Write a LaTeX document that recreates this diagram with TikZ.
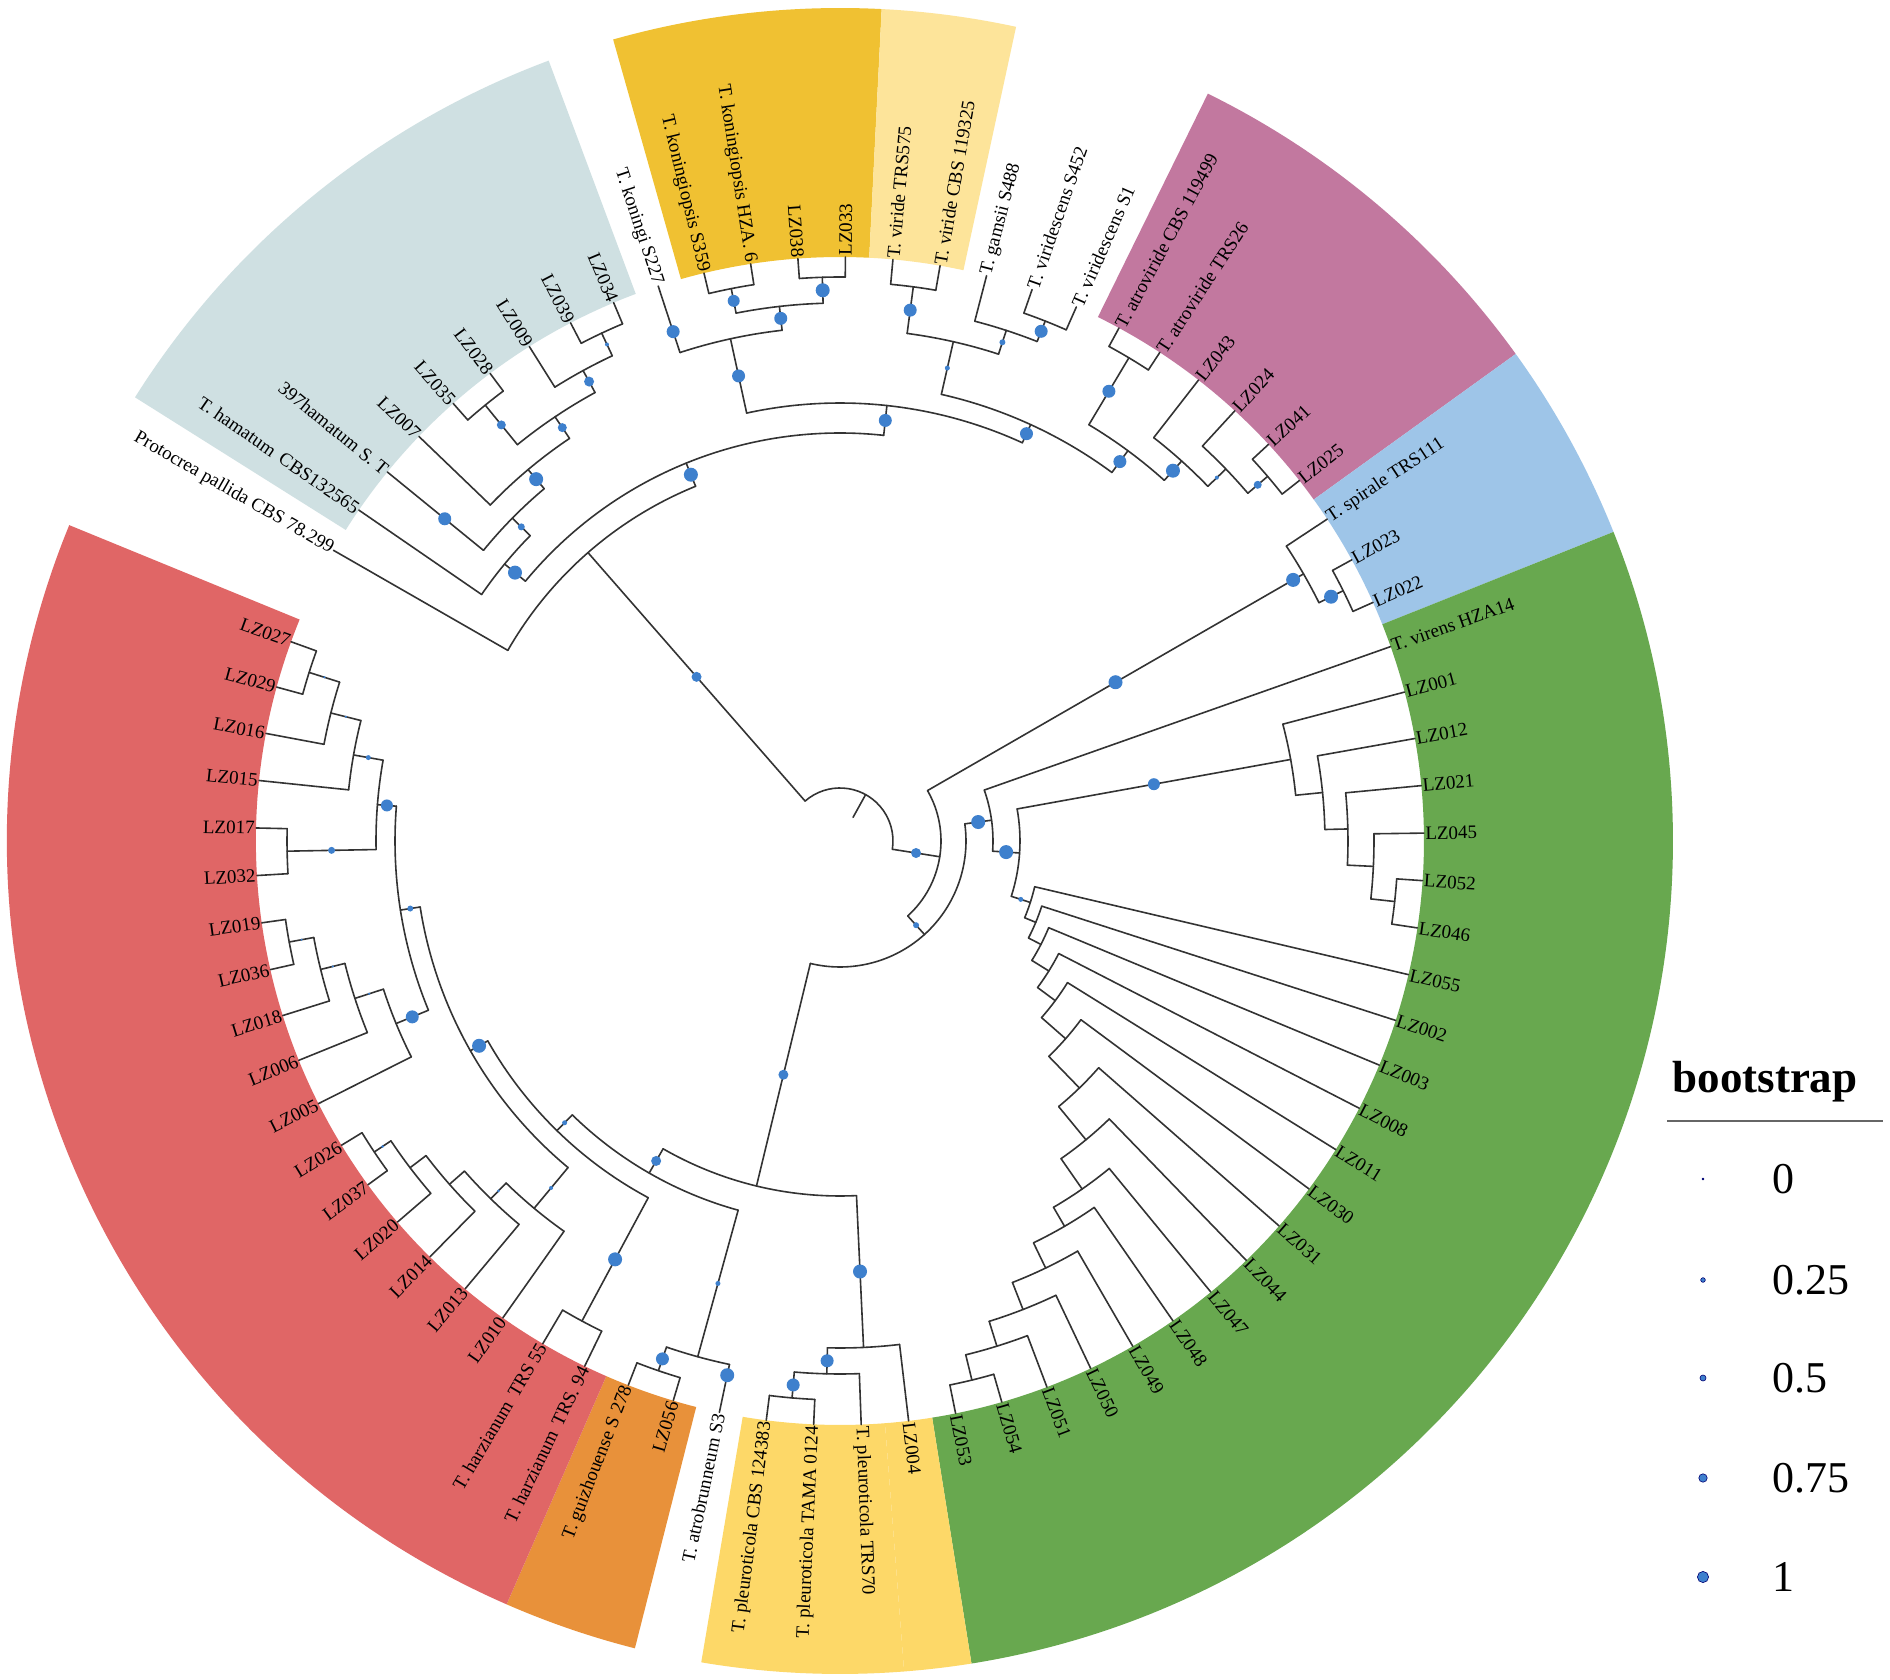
\documentclass[tikz,border=0pt]{standalone}
\usepackage{fontspec}
\setmainfont{Liberation Serif}
\usetikzlibrary{positioning}
\definecolor{dotblue}{RGB}{62,128,205}
\definecolor{hamatumgray}{RGB}{207,224,226}
\definecolor{koningiigold}{RGB}{240,193,50}
\definecolor{viridecream}{RGB}{253,228,154}
\definecolor{atrovirmauve}{RGB}{194,120,159}
\definecolor{spiraleblue}{RGB}{158,197,232}
\definecolor{virensgreen}{RGB}{104,168,79}
\definecolor{pleuroyellow}{RGB}{253,216,104}
\definecolor{guizhouorange}{RGB}{232,145,58}
\definecolor{harzianumred}{RGB}{224,102,102}
\pgfdeclarelayer{bg}\pgfdeclarelayer{fg}\pgfsetlayers{bg,main,fg}

\newcommand\tipR{584}
\newcommand\outR{833}
\newcommand\firstA{150.15}
\newcommand\stepA{4.668}
% leaf: name, index, label
\newcommand\leaf[3]{%
  \pgfmathsetmacro\lfA{\firstA-\stepA*(#2-1)}%
  \expandafter\xdef\csname na@#1\endcsname{\lfA}%
  \expandafter\xdef\csname nr@#1\endcsname{\tipR}%
  \expandafter\gdef\csname nd@#1\endcsname{0}%
  \coordinate (#1) at (\lfA:\tipR);
  \pgfmathtruncatemacro\lfS{cos(\lfA)>-0.0001}%
  \ifnum\lfS=1
    \node[tiplabel, anchor=west, rotate=\lfA] (lab#1) at (#1) {#3};
  \else
    \pgfmathsetmacro\lfB{\lfA+180}%
    \node[tiplabel, anchor=east, rotate=\lfB] (lab#1) at (#1) {#3};
  \fi
}
% stem of a child up to its parent radius
\newcommand\stem[2]{%
  \edef\stA{\csname na@#1\endcsname}%
  \edef\stR{\csname nr@#1\endcsname}%
  \edef\stD{\csname nd@#1\endcsname}%
  \draw[branch] (\stA:#2) -- (#1);
  \ifdim\stD pt>0pt
    \pgfmathsetmacro\stM{(#2+\stR)/2}%
    \begin{pgfonlayer}{fg}\fill[bsdot] (\stA:\stM) circle[radius=\stD pt];\end{pgfonlayer}%
  \fi
}
% clade: name, radius, child, child, dot radius
\newcommand\clade[5]{%
  \edef\angA{\csname na@#3\endcsname}%
  \edef\angB{\csname na@#4\endcsname}%
  \pgfmathsetmacro\angM{(\angA+\angB)/2}%
  \expandafter\xdef\csname na@#1\endcsname{\angM}%
  \expandafter\xdef\csname nr@#1\endcsname{#2}%
  \expandafter\xdef\csname nd@#1\endcsname{#5}%
  \coordinate (#1) at (\angM:#2);
  \draw[branch] (\angA:#2) arc[start angle=\angA, end angle=\angB, radius=#2pt];
  \stem{#3}{#2}\stem{#4}{#2}%
}
\newcommand\extradot[3]{%
  \edef\exA{\csname na@#1\endcsname}%
  \begin{pgfonlayer}{fg}\fill[bsdot] (\exA:#2) circle[radius=#3pt];\end{pgfonlayer}%
}
% coloured range: colour, first leaf, last leaf
\newcommand\sector[3]{%
  \pgfmathsetmacro\secA{\firstA-\stepA*(#2-1)+\stepA/2}%
  \pgfmathsetmacro\secB{\firstA-\stepA*(#3-1)-\stepA/2}%
  \begin{pgfonlayer}{bg}
  \fill[#1] (\secA:\tipR) arc[start angle=\secA, end angle=\secB, radius=\tipR pt]
    -- (\secB:\outR) arc[start angle=\secB, end angle=\secA, radius=\outR pt] -- cycle;
  \end{pgfonlayer}
}

\begin{document}
\begin{tikzpicture}[
    x=1pt, y=1pt,
    branch/.style={line width=1.6pt, black!80, line cap=round},
    bsdot/.style={fill=dotblue},
    tiplabel/.style={font=\fontsize{19}{19}\selectfont, inner sep=1.5pt, outer sep=0pt}
]
    \useasboundingbox (-840,-839) rectangle (1050,841);
    \begin{pgfonlayer}{bg}\fill[white] (-840,-839) rectangle (1050,841);\end{pgfonlayer}

    % Coloured ranges
    \sector{hamatumgray}{2}{9}
    \sector{koningiigold}{11}{14}
    \sector{viridecream}{15}{16}
    \sector{atrovirmauve}{20}{25}
    \sector{spiraleblue}{26}{28}
    \sector{virensgreen}{29}{50}
    \sector{pleuroyellow}{51}{51}
    \sector{pleuroyellow}{52}{54}
    \sector{guizhouorange}{56}{57}
    \sector{harzianumred}{58}{76}

    % Leaves
    \leaf{t01}{1}{Protocrea pallida CBS 78.299}
    \leaf{t02}{2}{T. hamatum\, CBS132565}
    \leaf{t03}{3}{397hamatum S. T}
    \leaf{t04}{4}{LZ007}
    \leaf{t05}{5}{LZ035}
    \leaf{t06}{6}{LZ028}
    \leaf{t07}{7}{LZ009}
    \leaf{t08}{8}{LZ039}
    \leaf{t09}{9}{LZ034}
    \leaf{t10}{10}{T. koningi S227}
    \leaf{t11}{11}{T. koningiopsis S359}
    \leaf{t12}{12}{T. koningiopsis HZA. 6}
    \leaf{t13}{13}{LZ038}
    \leaf{t14}{14}{LZ033}
    \leaf{t15}{15}{T. viride TRS575}
    \leaf{t16}{16}{T. viride CBS 119325}
    \leaf{t17}{17}{T. gamsii S488}
    \leaf{t18}{18}{T. viridescens S452}
    \leaf{t19}{19}{T. viridescens S1}
    \leaf{t20}{20}{T. atroviride CBS 119499}
    \leaf{t21}{21}{T. atroviride TRS26}
    \leaf{t22}{22}{LZ043}
    \leaf{t23}{23}{LZ024}
    \leaf{t24}{24}{LZ041}
    \leaf{t25}{25}{LZ025}
    \leaf{t26}{26}{T. spirale TRS111}
    \leaf{t27}{27}{LZ023}
    \leaf{t28}{28}{LZ022}
    \leaf{t29}{29}{T. virens HZA14}
    \leaf{t30}{30}{LZ001}
    \leaf{t31}{31}{LZ012}
    \leaf{t32}{32}{LZ021}
    \leaf{t33}{33}{LZ045}
    \leaf{t34}{34}{LZ052}
    \leaf{t35}{35}{LZ046}
    \leaf{t36}{36}{LZ055}
    \leaf{t37}{37}{LZ002}
    \leaf{t38}{38}{LZ003}
    \leaf{t39}{39}{LZ008}
    \leaf{t40}{40}{LZ011}
    \leaf{t41}{41}{LZ030}
    \leaf{t42}{42}{LZ031}
    \leaf{t43}{43}{LZ044}
    \leaf{t44}{44}{LZ047}
    \leaf{t45}{45}{LZ048}
    \leaf{t46}{46}{LZ049}
    \leaf{t47}{47}{LZ050}
    \leaf{t48}{48}{LZ051}
    \leaf{t49}{49}{LZ054}
    \leaf{t50}{50}{LZ053}
    \leaf{t51}{51}{LZ004}
    \leaf{t52}{52}{T. pleuroticola TRS70}
    \leaf{t53}{53}{T. pleuroticola TAMA 0124}
    \leaf{t54}{54}{T. pleuroticola CBS 124383}
    \leaf{t55}{55}{T. atrobrunneum S3}
    \leaf{t56}{56}{LZ056}
    \leaf{t57}{57}{T. guizhouense S 278}
    \leaf{t58}{58}{T. harzianum\, TRS. 94}
    \leaf{t59}{59}{T. harzianum\, TRS 55}
    \leaf{t60}{60}{LZ010}
    \leaf{t61}{61}{LZ013}
    \leaf{t62}{62}{LZ014}
    \leaf{t63}{63}{LZ020}
    \leaf{t64}{64}{LZ037}
    \leaf{t65}{65}{LZ026}
    \leaf{t66}{66}{LZ005}
    \leaf{t67}{67}{LZ006}
    \leaf{t68}{68}{LZ018}
    \leaf{t69}{69}{LZ036}
    \leaf{t70}{70}{LZ019}
    \leaf{t71}{71}{LZ032}
    \leaf{t72}{72}{LZ017}
    \leaf{t73}{73}{LZ015}
    \leaf{t74}{74}{LZ016}
    \leaf{t75}{75}{LZ029}
    \leaf{t76}{76}{LZ027}

    % hamatum group
    \clade{ham1}{561}{t08}{t09}{2}
    \clade{ham2}{536}{t07}{ham1}{5}
    \clade{ham3}{562}{t05}{t06}{4.5}
    \clade{ham4}{511}{ham3}{ham2}{4.5}
    \clade{ham5}{485}{t04}{ham4}{7}
    \clade{ham6}{460}{t03}{ham5}{3.5}
    \clade{ham7}{435}{t02}{ham6}{7}
    \extradot{t03}{510}{6.5}
    % koningiopsis group
    \clade{kon1}{564}{t13}{t14}{7}
    \clade{kon2}{563}{t11}{t12}{6}
    \clade{kon3}{538}{kon2}{kon1}{6.5}
    \clade{kon4}{514}{t10}{kon3}{6.5}
    \extradot{t10}{536}{6.5}
    % viride group
    \clade{vir1}{559}{t15}{t16}{6.5}
    \clade{vir2}{559}{t18}{t19}{6.5}
    \clade{vir3}{537}{t17}{vir2}{3}
    \clade{vir4}{512}{vir1}{vir3}{2.5}
    % atroviride group
    \clade{atr1}{563}{t20}{t21}{6.5}
    \clade{atr3}{562}{t24}{t25}{4}
    \clade{atr4}{536}{t23}{atr3}{2}
    \clade{atr5}{511}{t22}{atr4}{7}
    \clade{atr2}{485}{atr1}{atr5}{6.5}
    % upper backbone
    \clade{nodeZ}{458}{vir4}{atr2}{6.5}
    \clade{nodeY}{438}{kon4}{nodeZ}{6.5}
    \clade{nodeX}{408}{ham7}{nodeY}{7}
    \clade{nodeA}{383}{t01}{nodeX}{5}

    % spirale group
    \clade{spi1}{562}{t27}{t28}{7}
    \clade{spi2}{535}{t26}{spi1}{7}
    \extradot{spi2}{523}{7}
    % virens group
    \clade{vrn1}{558}{t34}{t35}{0}
    \clade{vrn2}{534}{t33}{vrn1}{0}
    \clade{vrn3}{508}{t32}{vrn2}{0}
    \clade{vrn4}{485}{t31}{vrn3}{0}
    \clade{vrn5}{458}{t30}{vrn4}{6}
    \clade{grn1}{555}{t49}{t50}{0}
    \clade{grn2}{529}{t48}{grn1}{0}
    \clade{grn3}{503}{t47}{grn2}{0}
    \clade{grn4}{474}{t46}{grn3}{0}
    \clade{grn5}{446}{t45}{grn4}{0}
    \clade{grn6}{424}{t44}{grn5}{0}
    \clade{grn7}{387}{t43}{grn6}{0}
    \clade{grn8}{344}{t42}{grn7}{0}
    \clade{grn9}{300}{t41}{grn8}{0}
    \clade{grn10}{268}{t40}{grn9}{0}
    \clade{grn11}{246}{t39}{grn10}{0}
    \clade{grn12}{226}{t38}{grn11}{0}
    \clade{grn13}{212}{t37}{grn12}{0}
    \clade{grn14}{200}{t36}{grn13}{2.5}
    \clade{nodeB5}{180}{vrn5}{grn14}{7}
    \clade{nodeB3}{153}{t29}{nodeB5}{7}

    % pleuroticola and guizhouense groups
    \clade{ple1}{559}{t53}{t54}{6.5}
    \clade{ple2}{533}{t52}{ple1}{6.5}
    \clade{ple3}{507}{t51}{ple2}{7}
    \clade{atb0}{560}{t56}{t57}{6.5}
    \clade{atb1}{535}{t55}{atb0}{2.5}
    \extradot{t55}{546}{7}
    % harzianum group
    \clade{hzm}{545}{t58}{t59}{7}
    \clade{hzn1}{560}{t64}{t65}{1.5}
    \clade{hzn2}{540}{t63}{hzn1}{0}
    \clade{hzn3}{520}{t62}{hzn2}{0}
    \clade{hzn4}{500}{t61}{hzn3}{1.5}
    \clade{hzn5}{478}{t60}{hzn4}{2}
    \clade{lzk1}{557}{t75}{t76}{1.2}
    \clade{lzk2}{525}{t74}{lzk1}{1.2}
    \clade{lzk3}{494}{t73}{lzk2}{2.5}
    \clade{lzk4}{553}{t71}{t72}{3.5}
    \clade{lzk5}{464}{lzk4}{lzk3}{6}
    \clade{lzk6}{560}{t69}{t70}{1.2}
    \clade{lzk7}{535}{t68}{lzk6}{1.2}
    \clade{lzk8}{510}{t67}{lzk7}{1.2}
    \clade{lzkA}{480}{t66}{lzk8}{6.5}
    \clade{lzkB}{445}{lzkA}{lzk5}{3}
    \clade{hzL}{425}{hzn5}{lzkB}{7}
    \clade{hzR}{405}{hzm}{hzL}{2.5}
    \clade{nodeQ}{383}{atb1}{hzR}{5}
    \clade{nodeB4}{355}{ple3}{nodeQ}{5}
    \clade{nodeB2}{126}{nodeB3}{nodeB4}{3}
    \clade{nodeB}{101}{spi2}{nodeB2}{5}

    % root
    \clade{root}{53}{nodeA}{nodeB}{0}
    \coordinate (rootbase) at (\csname na@root\endcsname:27);
    \draw[branch] (rootbase) -- (root);

    % Legend
    \node[font=\bfseries\fontsize{45}{45}\selectfont] (bstitle) at (925,-241) {bootstrap};
    \coordinate (rulel) at (827,-280);
    \coordinate (ruler) at (1043,-280);
    \draw[line width=1.3pt, black!60] (rulel) -- (ruler);
    \foreach \val/\ypos/\rad [count=\k] in {0/-338/0.9, 0.25/-439/2.3, 0.5/-537/3, 0.75/-637/4.2, 1/-736/5.6} {
        \fill[bsdot, draw=blue!45!black, line width=0.6pt] (863,\ypos) circle[radius=\rad pt];
        \node[font=\fontsize{44}{44}\selectfont, anchor=west, inner sep=0pt] (bsval\k) at (932,\ypos) {\val};
    }
\end{tikzpicture}
\end{document}
